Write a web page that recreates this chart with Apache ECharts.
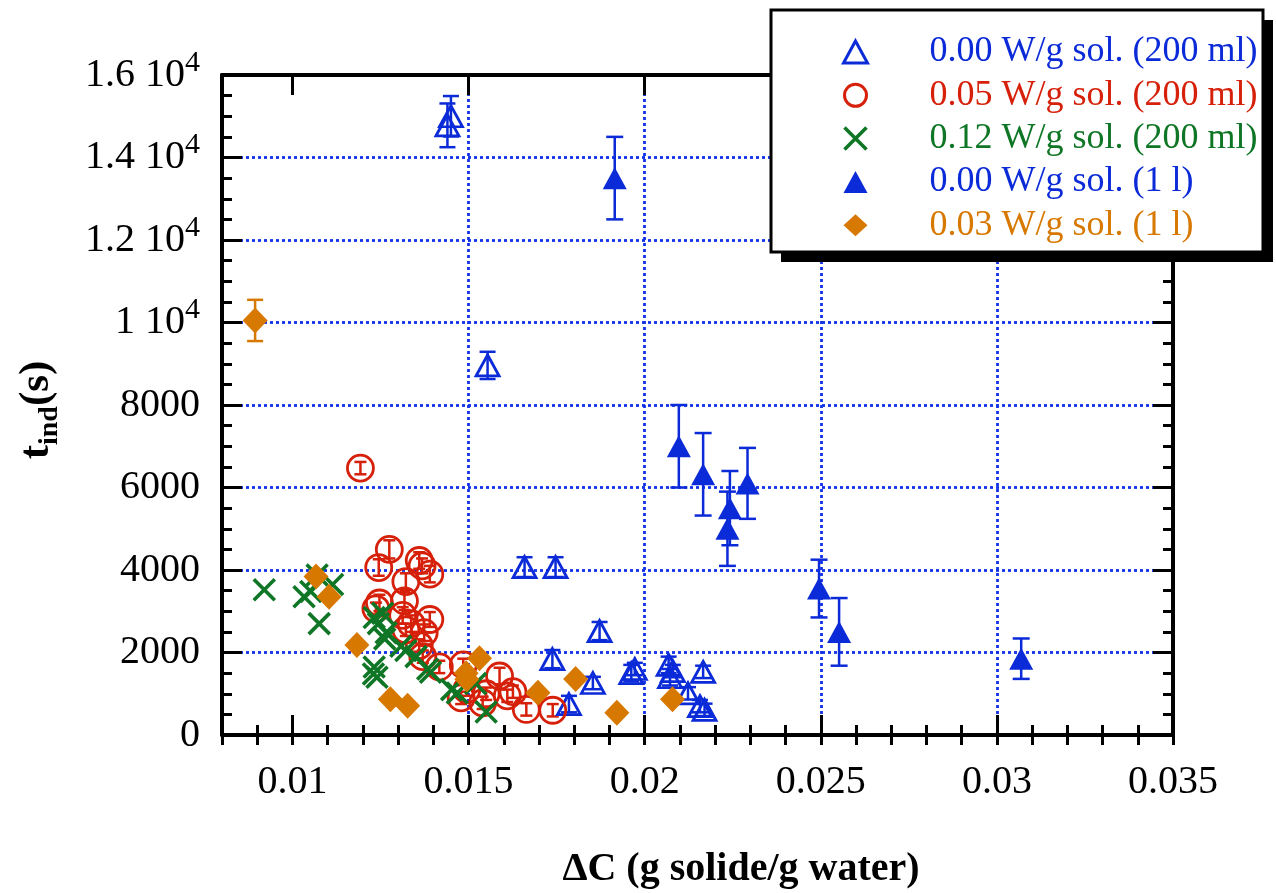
<!DOCTYPE html>
<html><head><meta charset="utf-8">
<script src="https://cdn.jsdelivr.net/npm/echarts@6/dist/echarts.min.js"></script>
<style>html,body{margin:0;padding:0;background:#fff}#c{width:1276px;height:893px}</style>
</head><body><div id="c"></div>
<script>
// ---------- DATA ----------
const seriesNames = ['0.00 W/g sol. (200 ml)', '0.05 W/g sol. (200 ml)', '0.12 W/g sol. (200 ml)', '0.00 W/g sol. (1 l)', '0.03 W/g sol. (1 l)'];
// [ΔC, t_ind, error]
const hollowTri200 = [
  [0.01450, 15000, 490], [0.01440, 14780, 530], [0.01554, 8960, 330],
  [0.01659, 4070, 240], [0.01747, 4070, 240], [0.01738, 1840, 220],
  [0.01872, 2520, 220], [0.01853, 1260, 150], [0.01785, 750, 200],
  [0.01962, 1500, 200], [0.01972, 1600, 150], [0.02068, 1700, 200],
  [0.02072, 1400, 200], [0.02080, 1550, 150], [0.02166, 1530, 150],
  [0.02123, 1010, 150], [0.02157, 700, 150], [0.02170, 610, 150]
];
const circle005 = [
  [0.01193, 6470, 150], [0.01275, 4500, 220], [0.01245, 4060, 200], [0.01360, 4230, 200],
  [0.01368, 4100, 180], [0.01390, 3900, 200], [0.01322, 3720, 200], [0.01247, 3200, 200],
  [0.01237, 3060, 150], [0.01318, 3250, 220], [0.01390, 2800, 180], [0.01313, 2900, 200],
  [0.01337, 2700, 200], [0.01322, 2550, 150], [0.01374, 2480, 200], [0.01360, 2170, 150],
  [0.01370, 1900, 150], [0.01417, 1650, 150], [0.01485, 1700, 150], [0.01495, 1100, 150],
  [0.01479, 900, 150], [0.01540, 780, 150], [0.01550, 1000, 150], [0.01588, 1430, 200],
  [0.01610, 950, 150], [0.01626, 1050, 150], [0.01664, 620, 150], [0.01739, 600, 150]
];
const cross012 = [
  [0.00920, 3520], [0.01033, 3350], [0.01052, 3480], [0.01070, 3880], [0.01114, 3650], [0.01076, 2700],
  [0.01232, 2850], [0.01256, 2950], [0.01244, 2700], [0.01266, 2480], [0.01262, 2330], [0.01232, 1650],
  [0.01230, 1480], [0.01240, 1400], [0.01308, 2150], [0.01322, 2050], [0.01351, 1900], [0.01384, 1600],
  [0.01392, 1520], [0.01452, 1100], [0.01468, 1020], [0.01520, 1250], [0.01550, 560]
];
const filledTri1l = [
  [0.01915, 13500, 1000], [0.02097, 7000, 1000], [0.02166, 6320, 1000], [0.02242, 5500, 900],
  [0.02235, 5000, 900], [0.02292, 6100, 860], [0.02495, 3550, 700], [0.02552, 2500, 820],
  [0.03069, 1850, 490]
];
const diamond003 = [
  [0.00894, 10050, 500], [0.01067, 3840, 0], [0.01104, 3350, 0], [0.01183, 2180, 0],
  [0.01278, 865, 0], [0.01327, 710, 0], [0.01531, 1860, 0], [0.01493, 1500, 0],
  [0.01495, 1350, 0], [0.01697, 1025, 0], [0.01804, 1360, 0], [0.01921, 540, 0], [0.02079, 865, 0]
];
const xTickValues = [0.01, 0.015, 0.02, 0.025, 0.03, 0.035];
const xTickLabels = ['0.01', '0.015', '0.02', '0.025', '0.03', '0.035'];
const yTickValues = [0, 2000, 4000, 6000, 8000, 10000, 12000, 14000, 16000];
const yTickLabels = ['0', '2000', '4000', '6000', '8000', '1 10^4', '1.2 10^4', '1.4 10^4', '1.6 10^4'];
const xTitle = 'ΔC (g solide/g water)';

// ---------- STYLE ----------
const BLUE = '#0b2ad8', RED = '#d6200a', GREEN = '#0f7626', ORANGE = '#d77800';
const colors = [BLUE, RED, GREEN, BLUE, ORANGE];
const FONT = "'Liberation Serif', 'Times New Roman', serif";
const XMIN = 0.008, XMAX = 0.035;
const gridLine = { show: true, showMinLine: false, showMaxLine: false, lineStyle: { color: '#1232e8', width: 2.8, type: [3, 3] } };
const axisBlack = { show: true, onZero: false, lineStyle: { color: '#000', width: 4 } };

function errRender(color, cap) {
  return function (params, api) {
    const x = api.value(0), y = api.value(1), e = api.value(2);
    const hi = api.coord([x, y + e]), lo = api.coord([x, y - e]);
    const st = { stroke: color, lineWidth: 2.5 };
    return { type: 'group', children: [
      { type: 'line', shape: { x1: hi[0], y1: hi[1], x2: lo[0], y2: lo[1] }, style: st },
      { type: 'line', shape: { x1: hi[0] - cap, y1: hi[1], x2: hi[0] + cap, y2: hi[1] }, style: st },
      { type: 'line', shape: { x1: lo[0] - cap, y1: lo[1], x2: lo[0] + cap, y2: lo[1] }, style: st }
    ]};
  };
}
function errSeries(name, data, color, cap) {
  return { type: 'custom', name: name, data: data.filter(d => d[2] > 0), renderItem: errRender(color, cap),
    encode: { x: 0, y: 1 }, z: 2, silent: true };
}

const CROSS = 'path://M0,0L10,10M0,10L10,0';
const legendIconStyles = [
  { color: 'none', borderColor: BLUE, borderWidth: 3, opacity: 1 },
  { color: 'none', borderColor: RED, borderWidth: 3, opacity: 1 },
  { color: 'none', borderColor: GREEN, borderWidth: 3.6, opacity: 1 },
  { color: BLUE, borderWidth: 0, opacity: 1 },
  { color: ORANGE, borderWidth: 0, opacity: 1 }
];

const chart = echarts.init(document.getElementById('c'), null, { renderer: 'canvas' });
chart.setOption({
  animation: false,
  backgroundColor: '#fff',
  grid: { left: 222, right: 103, top: 75, bottom: 158, outerBoundsMode: 'none', containLabel: false },
  xAxis: [
    { type: 'value', position: 'bottom', min: XMIN, max: XMAX, axisLine: axisBlack,
      axisTick: { show: true, inside: true, length: 20, customValues: xTickValues, lineStyle: { color: '#000', width: 3 } },
      axisLabel: { customValues: xTickValues, margin: 27, color: '#000', fontFamily: FONT, fontSize: 40,
        formatter: v => { const i = xTickValues.findIndex(t => Math.abs(t - v) < 1e-9); return i >= 0 ? xTickLabels[i] : ''; } },
      splitLine: gridLine, minorTick: { show: false } },
    { type: 'value', position: 'bottom', min: XMIN, max: XMAX, interval: 0.001, axisLine: { show: false },
      axisTick: { show: true, inside: true, length: 10, lineStyle: { color: '#000', width: 3 } },
      axisLabel: { show: false }, splitLine: { show: false } },
    { type: 'value', position: 'top', min: XMIN, max: XMAX, axisLine: axisBlack,
      axisTick: { show: true, inside: true, length: 20, customValues: xTickValues, lineStyle: { color: '#000', width: 3 } },
      axisLabel: { show: false }, splitLine: { show: false } },
    { type: 'value', position: 'top', min: XMIN, max: XMAX, interval: 0.001, axisLine: { show: false },
      axisTick: { show: true, inside: true, length: 10, lineStyle: { color: '#000', width: 3 } },
      axisLabel: { show: false }, splitLine: { show: false } }
  ],
  yAxis: [
    { type: 'value', position: 'left', min: 0, max: 16000, interval: 2000, axisLine: axisBlack,
      axisTick: { show: true, inside: true, length: 20, lineStyle: { color: '#000', width: 3 } },
      minorTick: { show: true, splitNumber: 4, length: 10, lineStyle: { color: '#000', width: 3 } },
      axisLabel: { margin: 22, color: '#000',
        formatter: v => {
          const i = yTickValues.indexOf(v); const lab = i >= 0 ? yTickLabels[i] : '';
          if (lab.indexOf('^') >= 0) { const p = lab.split('^'); return '{n|' + p[0] + '}{p|' + p[1] + '}'; }
          return '{n|' + lab + '}';
        },
        rich: { n: { fontFamily: FONT, fontSize: 40, color: '#000', verticalAlign: 'middle' },
                p: { fontFamily: FONT, fontSize: 30, color: '#000', verticalAlign: 'middle', padding: [0, 0, 24, 0] } } },
      splitLine: gridLine },
    { type: 'value', position: 'right', min: 0, max: 16000, interval: 2000, axisLine: axisBlack,
      axisTick: { show: true, inside: true, length: 20, lineStyle: { color: '#000', width: 3 } },
      minorTick: { show: true, splitNumber: 4, length: 10, lineStyle: { color: '#000', width: 3 } },
      axisLabel: { show: false }, splitLine: { show: false } }
  ],
  legend: {
    orient: 'vertical', left: 841, top: 34, padding: 0, itemWidth: 24, itemHeight: 22, itemGap: 7.3,
    selectedMode: false, z: 30,
    formatter: name => '{sp|}' + name,
    textStyle: { fontFamily: FONT, fontSize: 36, lineHeight: 36, rich: { sp: { width: 57 } } },
    data: seriesNames.map((n, i) => ({ name: n, textStyle: { color: colors[i] }, itemStyle: legendIconStyles[i] }))
  },
  graphic: [
    { type: 'rect', z: 20, shape: { x: 781, y: 20, width: 492, height: 242 }, style: { fill: '#000' } },
    { type: 'rect', z: 21, shape: { x: 771, y: 10, width: 492, height: 242 }, style: { fill: '#fff', stroke: '#000', lineWidth: 3 } },
    { type: 'text', z: 25, x: 741, y: 870, style: { text: xTitle, font: "bold 40px " + FONT, fill: '#000', align: 'center', verticalAlign: 'middle' } },
    { type: 'text', z: 25, x: 37, y: 410, rotation: Math.PI / 2,
      style: { text: '{t|t}{s|ind}{t|(s)}', align: 'center', verticalAlign: 'middle',
        rich: { t: { font: "bold 43px " + FONT, fill: '#000', verticalAlign: 'middle' },
                s: { font: "bold 28px " + FONT, fill: '#000', verticalAlign: 'middle', padding: [26, 0, 0, 0] } } } }
  ],
  series: [
    errSeries('e0', hollowTri200, BLUE, 8),
    errSeries('e1', circle005, RED, 6),
    errSeries('e3', filledTri1l, BLUE, 8.5),
    errSeries('e4', diamond003, ORANGE, 8),
    { type: 'scatter', name: seriesNames[0], data: hollowTri200.map(d => [d[0], d[1]]), symbol: 'triangle', symbolSize: [23, 21],
      itemStyle: { color: 'none', borderColor: BLUE, borderWidth: 2.8, opacity: 1 }, z: 3 },
    { type: 'scatter', name: seriesNames[1], data: circle005.map(d => [d[0], d[1]]), symbol: 'circle', symbolSize: 26,
      itemStyle: { color: 'none', borderColor: RED, borderWidth: 2.8, opacity: 1 }, z: 3 },
    { type: 'scatter', name: seriesNames[2], data: cross012, symbol: CROSS, symbolSize: 21,
      itemStyle: { color: 'none', borderColor: GREEN, borderWidth: 3.6, opacity: 1 }, z: 3 },
    { type: 'scatter', name: seriesNames[3], data: filledTri1l.map(d => [d[0], d[1]]), symbol: 'triangle', symbolSize: [24, 22],
      itemStyle: { color: BLUE, opacity: 1 }, z: 3 },
    { type: 'scatter', name: seriesNames[4], data: diamond003.map(d => [d[0], d[1]]), symbol: 'diamond', symbolSize: [25, 26],
      itemStyle: { color: ORANGE, opacity: 1 }, z: 3 }
  ]
});
</script></body></html>
